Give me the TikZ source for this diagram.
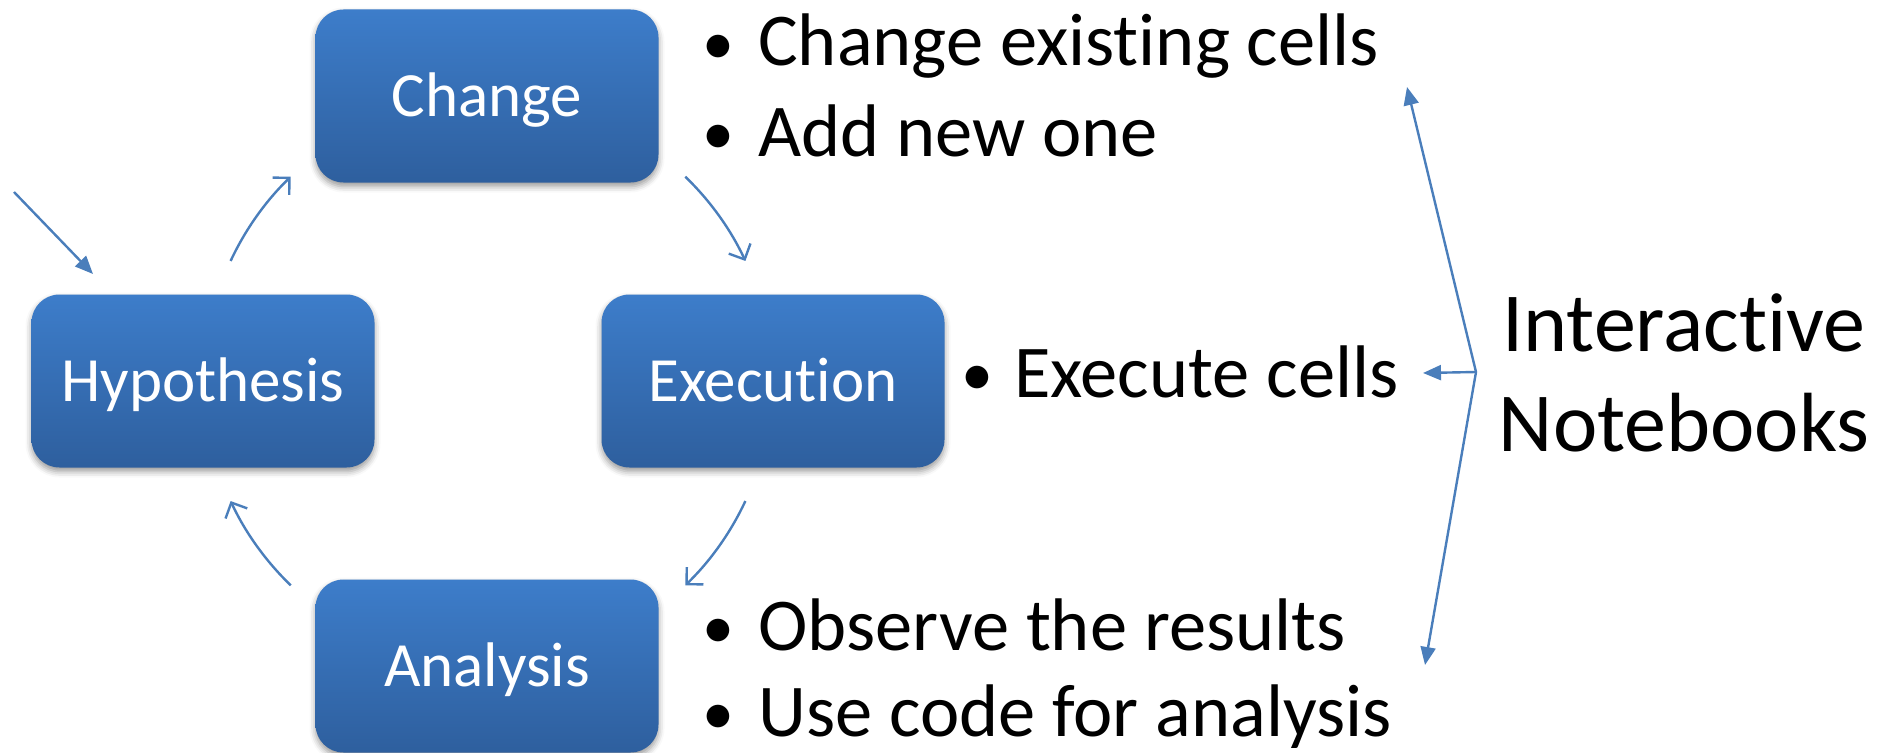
\documentclass[tikz,border=0pt]{standalone}
\usepackage{fontspec}
\setmainfont{Carlito}[Ligatures={NoCommon,NoContextual}]
\usetikzlibrary{arrows.meta,shadows.blur,calc}
\definecolor{boxtop}{HTML}{3D7DCA}
\definecolor{boxbot}{HTML}{2E5F9E}
\definecolor{linkblue}{HTML}{4A7EBB}
\tikzset{
  stage/.style={rounded corners=28pt, minimum width=343pt, minimum height=173pt,
    inner sep=0pt, top color=boxtop, bottom color=boxbot, draw=none, text=white,
    font=\fontsize{63}{75}\selectfont, text height=40pt, text depth=0pt,
    blur shadow={shadow xshift=0pt, shadow yshift=-4pt, shadow blur radius=6pt, shadow opacity=40}},
  cycarrow/.style={draw=linkblue, line width=2.4pt, -{Straight Barb[length=12pt,width=24pt]}},
  solidarrow/.style={draw=linkblue, line width=2.4pt, -{Triangle[length=18pt,width=15pt]}},
  bul/.style={anchor=base, inner sep=0pt, font=\fontsize{64}{76}\selectfont},
  item/.style={anchor=base west, inner sep=0pt, font=\fontsize{74.5}{89}\selectfont},
  tag/.style={anchor=base, inner sep=0pt, font=\fontsize{84}{100}\selectfont}
}
\begin{document}
\begin{tikzpicture}[x=1pt, y=-1pt]
  \useasboundingbox (0,0) rectangle (1886,752);

  % the four stages of the loop
  \node[stage] (change) at (487,96)  {Change};
  \node[stage] (hyp)    at (203,381) {Hypothesis};
  \node[stage] (exec)   at (773,381) {Execution};
  \node[stage] (anal)   at (487,666) {Analysis};

  % loop arcs on a common circle
  \coordinate (ctr) at (488,381);
  \def\rad{284}
  \draw[cycarrow] ($(ctr)+(-155:\rad)$) arc[start angle=-155, end angle=-134, radius=\rad];
  \draw[cycarrow] ($(ctr)+(-46:\rad)$)  arc[start angle=-46,  end angle=-25,  radius=\rad];
  \draw[cycarrow] ($(ctr)+(25:\rad)$)   arc[start angle=25,   end angle=46,   radius=\rad];
  \draw[cycarrow] ($(ctr)+(134:\rad)$)  arc[start angle=134,  end angle=155,  radius=\rad];

  % entry into the loop
  \coordinate (start) at (14,192);
  \coordinate (entry) at (93,274);
  \draw[solidarrow] (start) -- (entry);

  % bullet lists
  \node[bul]  (b1) at (718,64)  {•};
  \node[item] (t1) at (758,66)  {Change existing cells};
  \node[bul]  (b2) at (718,154) {•};
  \node[item] (t2) at (758,156) {Add new one};
  \node[bul]  (b3) at (977,395) {•};
  \node[item] (t3) at (1014,397) {Execute cells};
  \node[bul]  (b4) at (718,648) {•};
  \node[item] (t4) at (758,650) {Observe the results};
  \node[bul]  (b5) at (718,734) {•};
  \node[item] (t5) at (758,736) {Use code for analysis};

  % notebook label and its bracket
  \node[tag] (nb1) at (1684,351) {Interactive};
  \node[tag] (nb2) at (1684,451) {Notebooks};
  \coordinate (jn) at (1476,372);
  \coordinate (tipA) at (1407,87);
  \coordinate (tipB) at (1423,373);
  \coordinate (tipC) at (1425,665);
  \draw[solidarrow] (jn) -- (tipA);
  \draw[solidarrow] (jn) -- (tipB);
  \draw[solidarrow] (jn) -- (tipC);
\end{tikzpicture}
\end{document}
